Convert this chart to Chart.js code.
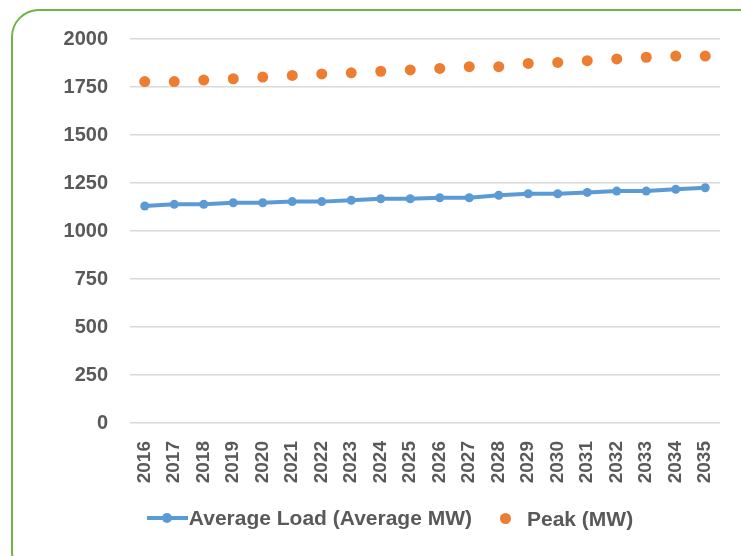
<!DOCTYPE html>
<html>
<head>
<meta charset="utf-8">
<script src="https://cdn.jsdelivr.net/npm/chart.js@4.4.1/dist/chart.umd.min.js"></script>
<style>
  html, body { margin: 0; padding: 0; background: #fff; }
  #wrap { position: relative; width: 741px; height: 556px; overflow: hidden; }
  #frame {
    position: absolute; left: 11px; top: 9px; width: 770px; height: 570px;
    border: 2.5px solid #6db545; border-radius: 28px; box-sizing: border-box;
  }
  #chart { position: absolute; left: 0; top: 0; }
  #legend {
    position: absolute; top: 505px; left: 0; width: 780px; text-align: center;
    font: bold 21px "Liberation Sans", sans-serif; color: #595959; white-space: nowrap;
  }
  .item { display: inline-flex; align-items: center; margin: 0 14px; }
  .lineKey { position: relative; width: 41px; height: 12px; margin-right: 1px; }
  .lineKey .bar { position: absolute; left: 0; right: 0; top: 4px; height: 4px; background: #5b9bd5; }
  .lineKey .dot { position: absolute; left: 15px; top: 1px; width: 10px; height: 10px; border-radius: 50%; background: #5b9bd5; }
  .dotKey { width: 11px; height: 11px; border-radius: 50%; background: #ed7d31; margin-right: 16px; }
</style>
</head>
<body>
<div id="wrap">
  <div id="frame"></div>
  <canvas id="chart" width="741" height="556"></canvas>
  <div id="legend"></div>
</div>
<script>
const years = ['2016', '2017', '2018', '2019', '2020', '2021', '2022', '2023', '2024', '2025',
               '2026', '2027', '2028', '2029', '2030', '2031', '2032', '2033', '2034', '2035'];
const averageLoad = [1130, 1139, 1139, 1147, 1147, 1153, 1153, 1160, 1168, 1168,
                     1173, 1173, 1186, 1194, 1194, 1201, 1208, 1208, 1217, 1225];
const peakLoad = [1778, 1778, 1786, 1793, 1802, 1810, 1818, 1824, 1832, 1839,
                  1847, 1856, 1856, 1873, 1878, 1887, 1896, 1905, 1911, 1911];
const yTicks = [0, 250, 500, 750, 1000, 1250, 1500, 1750, 2000];

const grey = '#595959';
Chart.defaults.font.family = '"Liberation Sans", sans-serif';
Chart.defaults.font.weight = 'bold';
Chart.defaults.color = grey;

const chart = new Chart(document.getElementById('chart'), {
  type: 'line',
  data: {
    labels: years,
    datasets: [{
      label: 'Average Load (Average MW)',
      data: averageLoad,
      borderColor: '#5b9bd5',
      backgroundColor: '#5b9bd5',
      borderWidth: 4,
      pointRadius: 4.5,
      pointBorderWidth: 0,
      tension: 0
    }, {
      label: 'Peak (MW)',
      data: peakLoad,
      showLine: false,
      borderColor: '#ed7d31',
      backgroundColor: '#ed7d31',
      pointRadius: 5.5,
      pointBorderWidth: 0
    }]
  },
  options: {
    responsive: false,
    animation: false,
    layout: { padding: { left: 60, top: 39, right: 21, bottom: 0 } },
    plugins: {
      legend: { display: false },
      tooltip: { enabled: false }
    },
    scales: {
      x: {
        offset: true,
        grid: { display: false, drawTicks: false },
        border: { display: false },
        ticks: { minRotation: 90, maxRotation: 90, padding: 18, font: { size: 19 }, color: grey },
        afterFit: function (scale) {
          scale.height = 133;
          scale.paddingLeft = 0;
          scale.paddingRight = 0;
        }
      },
      y: {
        min: 0,
        max: 2000,
        afterBuildTicks: function (scale) { scale.ticks = yTicks.map(v => ({ value: v })); },
        grid: { color: '#d9d9d9', lineWidth: 1.5, drawTicks: false },
        border: { display: false },
        ticks: {
          padding: 22,
          font: { size: 20 },
          color: grey,
          callback: function (value) { return String(value); }
        },
        afterFit: function (scale) { scale.width = 70; }
      }
    }
  }
});

// legend built from the datasets
const legend = document.getElementById('legend');
chart.data.datasets.forEach(function (ds, i) {
  const item = document.createElement('span');
  item.className = 'item';
  const key = document.createElement('span');
  if (i === 0) {
    key.className = 'lineKey';
    key.innerHTML = '<span class="bar"></span><span class="dot"></span>';
  } else {
    key.className = 'dotKey';
  }
  item.appendChild(key);
  item.appendChild(document.createTextNode(ds.label));
  legend.appendChild(item);
});
</script>
</body>
</html>
